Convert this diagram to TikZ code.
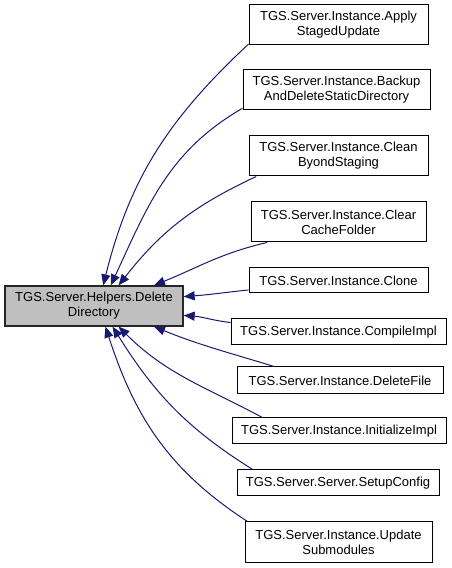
\documentclass[tikz,border=0pt]{standalone}
\usepackage{fontspec}
\setmainfont{Liberation Sans}
\usetikzlibrary{arrows.meta,positioning}
\definecolor{edgeblue}{HTML}{191970}
\definecolor{targetgrey}{HTML}{BFBFBF}
\tikzset{
  fn/.style={draw=black, fill=white, line width=1pt, align=center, inner sep=0pt,
             font=\fontsize{13}{15}\selectfont},
  target/.style={fn, fill=targetgrey, draw=black!85, line width=1.3pt},
  call/.style={-{Triangle[length=11pt,width=9pt]}, line width=1pt, draw=edgeblue},
}

\begin{document}
\begin{tikzpicture}[x=1pt,y=1pt]
\useasboundingbox (0,0) rectangle (452,568);
% the helper being called
\node[target, minimum width=178pt, minimum height=40pt] (dd) at (94,262) {TGS.Server.Helpers.Delete\\Directory};
% its callers
\node[fn, minimum width=179pt, minimum height=40pt] (apply) at (338.5,543) {TGS.Server.Instance.Apply\\StagedUpdate};
\node[fn, minimum width=187pt, minimum height=40pt] (backup) at (336.5,478) {TGS.Server.Instance.Backup\\AndDeleteStaticDirectory};
\node[fn, minimum width=179pt, minimum height=40pt] (clean) at (338.5,412) {TGS.Server.Instance.Clean\\ByondStaging};
\node[fn, minimum width=175pt, minimum height=40pt] (clear) at (338.5,346) {TGS.Server.Instance.Clear\\CacheFolder};
\node[fn, minimum width=179pt, minimum height=25pt] (clone) at (338.5,287.5) {TGS.Server.Instance.Clone};
\node[fn, minimum width=215pt, minimum height=26pt] (compile) at (338.5,236) {TGS.Server.Instance.CompileImpl};
\node[fn, minimum width=206pt, minimum height=27pt] (delfile) at (340,187.5) {TGS.Server.Instance.DeleteFile};
\node[fn, minimum width=214pt, minimum height=26pt] (init) at (339,137) {TGS.Server.Instance.InitializeImpl};
\node[fn, minimum width=202pt, minimum height=26pt] (setup) at (338,85) {TGS.Server.Server.SetupConfig};
\node[fn, minimum width=187pt, minimum height=41pt] (update) at (338.5,25.5) {TGS.Server.Instance.Update\\Submodules};
% calls
\draw[call] (apply.192) to[out=223, in=76] (dd.66);
\draw[call] (backup.191) to[out=210, in=65] (dd.51);
\draw[call] (clean.194) to[out=205, in=52] (dd.40);
\draw[call] (clear.196) to[out=193, in=22] (dd.19);
\draw[call] (clone.186) to[out=186, in=4] (dd.6);
\draw[call] (compile.175) to[out=173, in=-4] (dd.-6);
\draw[call] (delfile.168) to[out=163, in=-22] (dd.-19);
\draw[call] (init.170) to[out=152, in=-45] (dd.-40);
\draw[call] (setup.171) to[out=148, in=-58] (dd.-48);
\draw[call] (update.167) to[out=147, in=-72] (dd.-61);
\end{tikzpicture}
\end{document}
